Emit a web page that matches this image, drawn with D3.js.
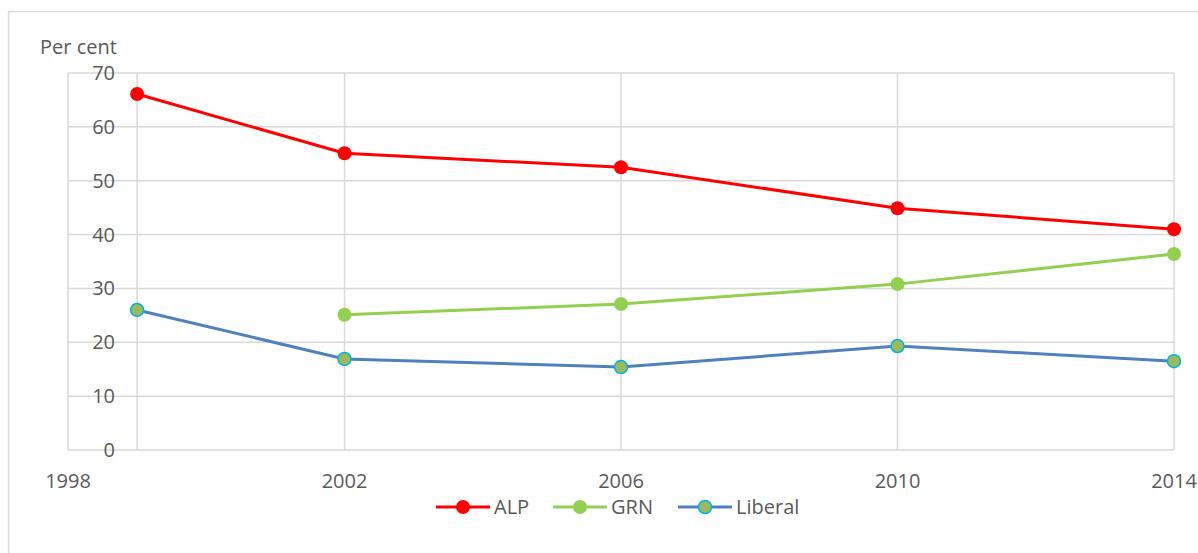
<!DOCTYPE html>
<html>
<head>
<meta charset="utf-8">
<script src="https://cdn.jsdelivr.net/npm/d3@7"></script>
<style>
  body { margin: 0; background: #fff; }
  svg { display: block; font-family: "Open Sans", "Noto Sans", sans-serif; }
</style>
</head>
<body>
<div id="app"></div>
<script>
var years = [1999, 2002, 2006, 2010, 2014];
var alp = [66.1, 55.1, 52.5, 44.9, 41.0];
var grn = [null, 25.1, 27.1, 30.8, 36.4];
var liberal = [26.0, 16.9, 15.4, 19.3, 16.5];
var xTicks = [1998, 2002, 2006, 2010, 2014];
var yTicks = [0, 10, 20, 30, 40, 50, 60, 70];

var series = [
    {name: "ALP", values: alp, line: "#ff0000", fill: "#ff0000", stroke: "none"},
    {name: "GRN", values: grn, line: "#92d050", fill: "#92d050", stroke: "none"},
    {name: "Liberal", values: liberal, line: "#4f81bd", fill: "#9bbb59", stroke: "#00b0f0"}
];

var width = 1198,
    height = 553;

var svg = d3.select("#app").append("svg")
    .attr("width", width)
    .attr("height", height);

// chart frame
svg.append("rect")
    .attr("x", 8.5).attr("y", 11.5)
    .attr("width", 1300).attr("height", 700)
    .attr("fill", "none")
    .attr("stroke", "#d9d9d9")
    .attr("stroke-width", 1.5);

var x = d3.scaleLinear().domain([1998, 2014]).range([68, 1174]);
var y = d3.scaleLinear().domain([0, 70]).range([450, 73]);

// horizontal gridlines
svg.append("g")
    .selectAll("line")
    .data(yTicks)
    .enter().append("line")
    .attr("x1", x(1998)).attr("x2", x(2014))
    .attr("y1", function(d) { return y(d); })
    .attr("y2", function(d) { return y(d); })
    .attr("stroke", "#d9d9d9")
    .attr("stroke-width", 1.5);

// vertical gridlines at left edge and at each data year
svg.append("g")
    .selectAll("line")
    .data([1998].concat(years))
    .enter().append("line")
    .attr("x1", function(d) { return x(d); })
    .attr("x2", function(d) { return x(d); })
    .attr("y1", y(70)).attr("y2", y(0))
    .attr("stroke", "#d9d9d9")
    .attr("stroke-width", 1.5);

// y tick labels
svg.append("g")
    .selectAll("text")
    .data(yTicks)
    .enter().append("text")
    .attr("x", 115)
    .attr("y", function(d) { return y(d); })
    .attr("dy", "0.35em")
    .attr("text-anchor", "end")
    .attr("fill", "#595959")
    .style("font-size", "20px")
    .text(function(d) { return d; });

// x tick labels
svg.append("g")
    .selectAll("text")
    .data(xTicks)
    .enter().append("text")
    .attr("x", function(d) { return x(d); })
    .attr("y", 488)
    .attr("text-anchor", "middle")
    .attr("fill", "#595959")
    .style("font-size", "20px")
    .text(function(d) { return d; });

svg.append("text")
    .attr("x", 40).attr("y", 54)
    .attr("fill", "#595959")
    .style("font-size", "20px")
    .text("Per cent");

var line = d3.line()
    .defined(function(d) { return d.v != null; })
    .x(function(d) { return x(d.year); })
    .y(function(d) { return y(d.v); });

series.forEach(function(s) {
    var pts = years.map(function(yr, i) { return {year: yr, v: s.values[i]}; });
    svg.append("path")
        .datum(pts)
        .attr("d", line)
        .attr("fill", "none")
        .attr("stroke", s.line)
        .attr("stroke-width", 3);
    svg.append("g")
        .selectAll("circle")
        .data(pts.filter(function(d) { return d.v != null; }))
        .enter().append("circle")
        .attr("cx", function(d) { return x(d.year); })
        .attr("cy", function(d) { return y(d.v); })
        .attr("r", s.stroke === "none" ? 7 : 6.5)
        .attr("fill", s.fill)
        .attr("stroke", s.stroke)
        .attr("stroke-width", 1.5);
});

// legend
var legendX = [436, 553, 678];
var legend = svg.append("g")
    .selectAll("g")
    .data(series)
    .enter().append("g")
    .attr("transform", function(d, i) { return "translate(" + legendX[i] + ",507)"; });

legend.append("line")
    .attr("x1", 0).attr("x2", 54)
    .attr("stroke", function(d) { return d.line; })
    .attr("stroke-width", 3);

legend.append("circle")
    .attr("cx", 27)
    .attr("r", function(d) { return d.stroke === "none" ? 7 : 6.5; })
    .attr("fill", function(d) { return d.fill; })
    .attr("stroke", function(d) { return d.stroke; })
    .attr("stroke-width", 1.5);

legend.append("text")
    .attr("x", 58)
    .attr("dy", "0.35em")
    .attr("fill", "#595959")
    .style("font-size", "20px")
    .text(function(d) { return d.name; });
</script>
</body>
</html>
